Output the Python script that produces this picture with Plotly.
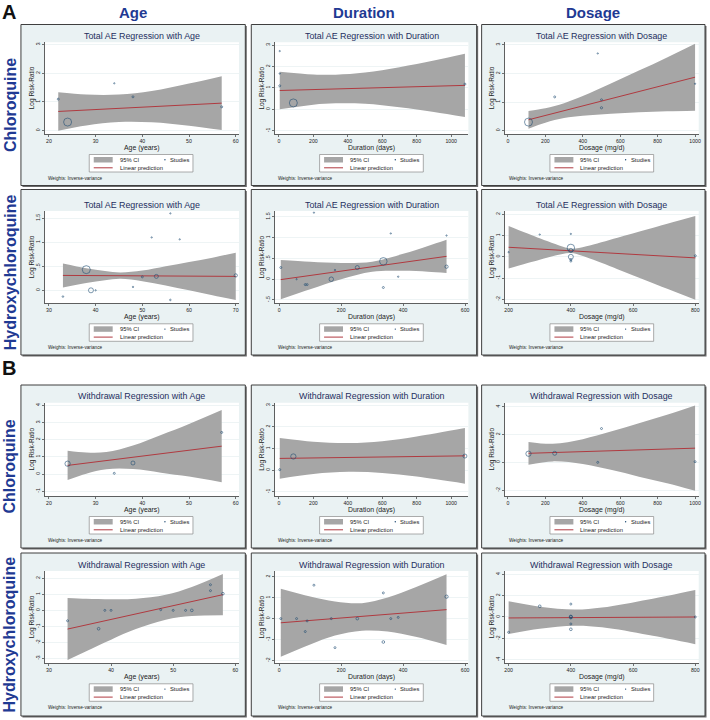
import plotly.graph_objects as go

W, H = 710, 720
FONT = "Liberation Sans, Arial, sans-serif"
NAVY = "#1a476f"
BAND = "#a6a6a6"
FIT = "#b03a40"
PANEL_BG = "#eaf2f3"
TITLE_C = "#1e2f60"
HEAD_C = "#1f3a93"

# ------------------------------------------------------------------ data
col_headers = ["Age", "Duration", "Dosage"]
row_labels = ["Chloroquine", "Hydroxychloroquine", "Chloroquine", "Hydroxychloroquine"]
x_titles = ["Age (years)", "Duration (days)", "Dosage (mg/d)"]
y_title = "Log Risk-Ratio"

# A: Total AE, Chloroquine
cq_ae_age_x = [22, 24, 34, 38, 57]
cq_ae_age_y = [1.10, 0.30, 1.65, 1.18, 0.83]
cq_ae_age_wt = [2, 8, 1.3, 2, 2]
cq_ae_age_band_x = [22, 28, 35, 42, 50, 57]
cq_ae_age_band_lo = [0.00, 0.18, 0.30, 0.29, 0.17, 0.02]
cq_ae_age_band_hi = [1.34, 1.26, 1.26, 1.38, 1.64, 1.90]
cq_ae_age_fit_x = [22, 57]
cq_ae_age_fit_y = [0.67, 0.96]

cq_ae_dur_x = [5, 5, 5, 84, 1080]
cq_ae_dur_y = [2.72, 1.67, 1.10, 0.30, 1.18]
cq_ae_dur_wt = [1.3, 1.3, 2, 8, 2]
cq_ae_dur_band_x = [5, 200, 330, 500, 700, 900, 1080]
cq_ae_dur_band_lo = [0.00, 0.22, 0.28, 0.26, 0.10, -0.12, -0.36]
cq_ae_dur_band_hi = [1.76, 1.63, 1.62, 1.72, 1.97, 2.28, 2.59]
cq_ae_dur_fit_x = [5, 1080]
cq_ae_dur_fit_y = [0.88, 1.12]

cq_ae_dos_x = [110, 250, 480, 500, 500, 1000]
cq_ae_dos_y = [0.30, 1.18, 2.70, 1.08, 0.80, 1.64]
cq_ae_dos_wt = [8, 2, 1.3, 2, 2.2, 1.3]
cq_ae_dos_band_x = [110, 200, 300, 400, 550, 700, 850, 1000]
cq_ae_dos_band_lo = [0.07, 0.28, 0.44, 0.52, 0.59, 0.64, 0.68, 0.70]
cq_ae_dos_band_hi = [0.69, 0.78, 0.96, 1.21, 1.65, 2.10, 2.56, 3.04]
cq_ae_dos_fit_x = [110, 1000]
cq_ae_dos_fit_y = [0.38, 1.87]

# A: Total AE, Hydroxychloroquine
hcq_ae_age_x = [33, 38, 39, 40, 48, 50, 52, 53, 56, 56, 58, 70]
hcq_ae_age_y = [-0.13, 0.43, 0.00, 0.00, 0.07, 0.28, 1.10, 0.29, 1.60, -0.20, 1.06, 0.31]
hcq_ae_age_wt = [1.6, 8, 5, 1.3, 1.4, 2, 1.3, 4, 1.3, 1.6, 1.3, 3.3]
hcq_ae_age_band_x = [33, 38, 42, 45.3, 50, 55, 60, 65, 70]
hcq_ae_age_band_lo = [0.06, 0.15, 0.21, 0.24, 0.19, 0.10, 0.00, -0.10, -0.20]
hcq_ae_age_band_hi = [0.56, 0.46, 0.40, 0.37, 0.41, 0.50, 0.59, 0.68, 0.78]
hcq_ae_age_fit_x = [33, 70]
hcq_ae_age_fit_y = [0.31, 0.29]

hcq_ae_dur_x = [5, 56, 84, 90, 112, 168, 180, 252, 336, 336, 360, 384, 540, 540]
hcq_ae_dur_y = [0.28, 0.00, -0.13, -0.13, 1.60, 0.00, 0.22, 0.28, 0.43, -0.20, 1.10, 0.06, 1.05, 0.30]
hcq_ae_dur_wt = [2, 1.3, 2, 2, 1.3, 4.5, 1.4, 4, 7.5, 2, 1.3, 1.4, 1.3, 3.3]
hcq_ae_dur_band_x = [5, 100, 200, 300, 400, 480, 540]
hcq_ae_dur_band_lo = [-0.48, -0.24, 0.00, 0.18, 0.20, 0.18, 0.15]
hcq_ae_dur_band_hi = [0.46, 0.42, 0.39, 0.42, 0.61, 0.80, 0.95]
hcq_ae_dur_fit_x = [5, 540]
hcq_ae_dur_fit_y = [-0.01, 0.55]

hcq_ae_dos_x = [200, 300, 400, 400, 400, 400, 400, 400, 800]
hcq_ae_dos_y = [0.22, 1.05, 1.08, 0.42, 0.30, 0.00, -0.13, -0.20, 0.05]
hcq_ae_dos_wt = [1.3, 1.3, 1.3, 7.5, 4, 5, 2, 2, 2]
hcq_ae_dos_band_x = [200, 300, 350, 400, 450, 550, 650, 800]
hcq_ae_dos_band_lo = [-0.55, -0.14, 0.06, 0.18, -0.02, -0.58, -1.16, -2.02]
hcq_ae_dos_band_hi = [1.45, 0.87, 0.60, 0.38, 0.50, 0.90, 1.31, 1.92]
hcq_ae_dos_fit_x = [200, 800]
hcq_ae_dos_fit_y = [0.45, -0.05]

# B: Withdrawal, Chloroquine
cq_wd_age_x = [24, 34, 38, 57]
cq_wd_age_y = [0.60, 0.04, 0.64, 2.42]
cq_wd_age_wt = [5.3, 2, 4, 2]
cq_wd_age_band_x = [24, 28, 32.3, 38, 44, 50, 57]
cq_wd_age_band_lo = [-0.35, 0.02, 0.28, 0.29, 0.08, -0.15, -0.48]
cq_wd_age_band_hi = [1.35, 1.25, 1.28, 1.66, 2.27, 2.91, 3.72]
cq_wd_age_fit_x = [24, 57]
cq_wd_age_fit_y = [0.50, 1.62]

cq_wd_dur_x = [5, 84, 1080]
cq_wd_dur_y = [0.02, 0.63, 0.65]
cq_wd_dur_wt = [2, 5.3, 4]
cq_wd_dur_band_x = [5, 200, 406, 600, 800, 1080]
cq_wd_dur_band_lo = [-0.40, -0.18, -0.08, -0.13, -0.30, -0.63]
cq_wd_dur_band_hi = [1.48, 1.31, 1.25, 1.34, 1.56, 1.95]
cq_wd_dur_fit_x = [5, 1080]
cq_wd_dur_fit_y = [0.54, 0.66]

cq_wd_dos_x = [110, 250, 480, 500, 1000]
cq_wd_dos_y = [0.62, 0.65, 0.00, 2.43, 0.05]
cq_wd_dos_wt = [5.3, 4, 2, 2, 2]
cq_wd_dos_band_x = [110, 240, 400, 550, 700, 850, 1000]
cq_wd_dos_band_lo = [-0.17, 0.07, -0.12, -0.54, -1.03, -1.50, -2.05]
cq_wd_dos_band_hi = [1.47, 1.34, 1.67, 2.21, 2.82, 3.42, 4.09]
cq_wd_dos_fit_x = [110, 1000]
cq_wd_dos_fit_y = [0.65, 1.02]

# B: Withdrawal, Hydroxychloroquine
hcq_wd_age_x = [33, 38, 39, 40, 48, 50, 52, 53, 56, 56, 58]
hcq_wd_age_y = [-0.65, -1.15, 0.00, 0.00, 0.04, 0.00, 0.00, 0.00, 1.60, 1.23, 1.04]
hcq_wd_age_wt = [2, 2.7, 2, 2, 2, 2, 2, 2.7, 2, 2, 2.7]
hcq_wd_age_band_x = [33, 36, 40, 44, 48.8, 53, 58]
hcq_wd_age_band_lo = [-3.10, -2.55, -1.83, -1.17, -0.59, -0.36, -0.31]
hcq_wd_age_band_hi = [0.77, 0.72, 0.69, 0.72, 0.97, 1.46, 2.27]
hcq_wd_age_fit_x = [33, 58]
hcq_wd_age_fit_y = [-1.17, 0.98]

hcq_wd_dur_x = [5, 56, 84, 90, 112, 168, 180, 252, 336, 336, 360, 384, 540]
hcq_wd_dur_y = [0.00, 0.00, -0.62, -0.11, 1.60, 0.00, -1.39, 0.00, 1.23, -1.12, 0.00, 0.06, 1.05]
hcq_wd_dur_wt = [2, 2, 2, 2, 2, 2, 2, 2.7, 2, 2.7, 2, 2, 3.3]
hcq_wd_dur_band_x = [5, 100, 180, 267, 350, 440, 540]
hcq_wd_dur_band_lo = [-1.83, -1.24, -0.81, -0.58, -0.62, -0.87, -1.26]
hcq_wd_dur_band_hi = [1.43, 1.06, 0.82, 0.74, 1.01, 1.50, 2.12]
hcq_wd_dur_fit_x = [5, 540]
hcq_wd_dur_fit_y = [-0.20, 0.43]

hcq_wd_dos_x = [200, 300, 400, 400, 400, 400, 400, 400, 800]
hcq_wd_dos_y = [-1.43, 1.00, 1.21, 0.05, 0.00, -0.10, -0.65, -1.15, 0.00]
hcq_wd_dos_wt = [2, 2.7, 2, 2.7, 3.3, 2, 2, 2.7, 2]
hcq_wd_dos_band_x = [200, 300, 413, 500, 650, 800]
hcq_wd_dos_band_lo = [-1.60, -1.11, -0.81, -0.97, -1.69, -2.54]
hcq_wd_dos_band_hi = [1.46, 0.96, 0.69, 0.88, 1.64, 2.53]
hcq_wd_dos_fit_x = [200, 800]
hcq_wd_dos_fit_y = [-0.09, 0.00]

# tick values
age_ticks_20 = [20, 30, 40, 50, 60]
age_ticks_30 = [30, 40, 50, 60, 70]
age_ticks_30b = [30, 40, 50, 60]
dur_ticks_1000 = [0, 200, 400, 600, 800, 1000]
dur_ticks_600 = [0, 200, 400, 600]
dos_ticks_1000 = [0, 200, 400, 600, 800, 1000]
dos_ticks_800 = [200, 400, 600, 800]

y_ticks_0_3 = [0, 1, 2, 3]
y_ticks_m1_3 = [-1, 0, 1, 2, 3]
y_ticks_half = [0, 0.5, 1, 1.5]
y_ticks_half_lab = ["0", ".5", "1", "1.5"]
y_ticks_mhalf = [-0.5, 0, 0.5, 1, 1.5]
y_ticks_mhalf_lab = ["-.5", "0", ".5", "1", "1.5"]
y_ticks_m2_2 = [-2, -1, 0, 1, 2]
y_ticks_m1_4 = [-1, 0, 1, 2, 3, 4]
y_ticks_m2_4 = [-2, 0, 2, 4]
y_ticks_m3_2 = [-3, -2, -1, 0, 1, 2]
y_ticks_m4_4 = [-4, -2, 0, 2, 4]

# ------------------------------------------------------------------ panels
def P(title, col, x, y, wt, bx, lo, hi, fx, fy, xt, yt, ytl, xr, yr):
    return dict(title=title, col=col, x=x, y=y, wt=wt, bx=bx, lo=lo, hi=hi,
                fx=fx, fy=fy, xt=xt, yt=yt, ytl=ytl, xr=xr, yr=yr)

def lab(v):
    return [str(t) for t in v]

panels = [
    P("Total AE Regression with Age", 0, cq_ae_age_x, cq_ae_age_y, cq_ae_age_wt,
      cq_ae_age_band_x, cq_ae_age_band_lo, cq_ae_age_band_hi, cq_ae_age_fit_x, cq_ae_age_fit_y,
      age_ticks_20, y_ticks_0_3, lab(y_ticks_0_3), [19.07, 60.71], [-0.116, 3.08]),
    P("Total AE Regression with Duration", 1, cq_ae_dur_x, cq_ae_dur_y, cq_ae_dur_wt,
      cq_ae_dur_band_x, cq_ae_dur_band_lo, cq_ae_dur_band_hi, cq_ae_dur_fit_x, cq_ae_dur_fit_y,
      dur_ticks_1000, y_ticks_m1_3, lab(y_ticks_m1_3), [-23, 1100], [-1.15, 3.13]),
    P("Total AE Regression with Dosage", 2, cq_ae_dos_x, cq_ae_dos_y, cq_ae_dos_wt,
      cq_ae_dos_band_x, cq_ae_dos_band_lo, cq_ae_dos_band_hi, cq_ae_dos_fit_x, cq_ae_dos_fit_y,
      dos_ticks_1000, y_ticks_0_3, lab(y_ticks_0_3), [-17.8, 1019.5], [-0.117, 3.09]),
    P("Total AE Regression with Age", 0, hcq_ae_age_x, hcq_ae_age_y, hcq_ae_age_wt,
      hcq_ae_age_band_x, hcq_ae_age_band_lo, hcq_ae_age_band_hi, hcq_ae_age_fit_x, hcq_ae_age_fit_y,
      age_ticks_30, y_ticks_half, y_ticks_half_lab, [29.07, 70.7], [-0.27, 1.65]),
    P("Total AE Regression with Duration", 1, hcq_ae_dur_x, hcq_ae_dur_y, hcq_ae_dur_wt,
      hcq_ae_dur_band_x, hcq_ae_dur_band_lo, hcq_ae_dur_band_hi, hcq_ae_dur_fit_x, hcq_ae_dur_fit_y,
      dur_ticks_600, y_ticks_mhalf, y_ticks_mhalf_lab, [-13.9, 610.5], [-0.58, 1.64]),
    P("Total AE Regression with Dosage", 2, hcq_ae_dos_x, hcq_ae_dos_y, hcq_ae_dos_wt,
      hcq_ae_dos_band_x, hcq_ae_dos_band_lo, hcq_ae_dos_band_hi, hcq_ae_dos_fit_x, hcq_ae_dos_fit_y,
      dos_ticks_800, y_ticks_m2_2, lab(y_ticks_m2_2), [187, 811], [-2.19, 2.16]),
    P("Withdrawal Regression with Age", 0, cq_wd_age_x, cq_wd_age_y, cq_wd_age_wt,
      cq_wd_age_band_x, cq_wd_age_band_lo, cq_wd_age_band_hi, cq_wd_age_fit_x, cq_wd_age_fit_y,
      age_ticks_20, y_ticks_m1_4, lab(y_ticks_m1_4), [19.07, 60.71], [-1.28, 4.15]),
    P("Withdrawal Regression with Duration", 1, cq_wd_dur_x, cq_wd_dur_y, cq_wd_dur_wt,
      cq_wd_dur_band_x, cq_wd_dur_band_lo, cq_wd_dur_band_hi, cq_wd_dur_fit_x, cq_wd_dur_fit_y,
      dur_ticks_1000, y_ticks_m1_3, lab(y_ticks_m1_3), [-23, 1100], [-1.2, 3.12]),
    P("Withdrawal Regression with Dosage", 2, cq_wd_dos_x, cq_wd_dos_y, cq_wd_dos_wt,
      cq_wd_dos_band_x, cq_wd_dos_band_lo, cq_wd_dos_band_hi, cq_wd_dos_fit_x, cq_wd_dos_fit_y,
      dos_ticks_1000, y_ticks_m2_4, lab(y_ticks_m2_4), [-17.8, 1019.5], [-2.42, 4.29]),
    P("Withdrawal Regression with Age", 0, hcq_wd_age_x, hcq_wd_age_y, hcq_wd_age_wt,
      hcq_wd_age_band_x, hcq_wd_age_band_lo, hcq_wd_age_band_hi, hcq_wd_age_fit_x, hcq_wd_age_fit_y,
      age_ticks_30b, y_ticks_m3_2, lab(y_ticks_m3_2), [29.3, 60.6], [-3.31, 2.46]),
    P("Withdrawal Regression with Duration", 1, hcq_wd_dur_x, hcq_wd_dur_y, hcq_wd_dur_wt,
      hcq_wd_dur_band_x, hcq_wd_dur_band_lo, hcq_wd_dur_band_hi, hcq_wd_dur_fit_x, hcq_wd_dur_fit_y,
      dur_ticks_600, y_ticks_m2_2, lab(y_ticks_m2_2), [-13.9, 610.5], [-2.14, 2.28]),
    P("Withdrawal Regression with Dosage", 2, hcq_wd_dos_x, hcq_wd_dos_y, hcq_wd_dos_wt,
      hcq_wd_dos_band_x, hcq_wd_dos_band_lo, hcq_wd_dos_band_hi, hcq_wd_dos_fit_x, hcq_wd_dos_fit_y,
      dos_ticks_800, y_ticks_m4_4, lab(y_ticks_m4_4), [187, 811], [-4.33, 4.3]),
]

# ------------------------------------------------------------------ geometry (pixels)
COL_L = [21, 252, 483]
COL_R = [246, 478, 707]
PLOT_X0 = [44.7, 275.7, 506]
PLOT_X1 = [239.7, 469.7, 700.7]
ROW_T = [24.5, 189.5, 385, 553]
ROW_B = [185.5, 355, 548, 716]
PLOT_Y0 = [42.3, 211, 402.7, 571]
PLOT_Y1 = [134, 303.3, 496, 663.3]


def fxp(px):
    return px / W


def fyp(py):
    return 1 - py / H


fig = go.Figure()
shapes = []
annos = []
layout_axes = {}


def rect(x0, y0, x1, y1, fill, lc="rgba(0,0,0,0)", lw=0):
    shapes.append(dict(type="rect", xref="paper", yref="paper", layer="below",
                       x0=fxp(x0), x1=fxp(x1), y0=fyp(y1), y1=fyp(y0),
                       fillcolor=fill, line=dict(color=lc, width=lw)))


def text(x, y, s, size, color="#222", xanchor="center", angle=0, bold=False):
    annos.append(dict(xref="paper", yref="paper", x=fxp(x), y=fyp(y),
                      text=(f"<b>{s}</b>" if bold else s), showarrow=False,
                      xanchor=xanchor, yanchor="middle", textangle=angle,
                      font=dict(family=FONT, size=size, color=color)))


# panel backgrounds first (with a slight drop shadow)
for k, p in enumerate(panels):
    r, c = k // 3, k % 3
    rect(COL_L[c] + 1.5, ROW_T[r] + 1.5, COL_R[c] + 1.5, ROW_B[r] + 1.5, "#6a6a6a")
    rect(COL_L[c], ROW_T[r], COL_R[c], ROW_B[r], PANEL_BG, "#3f3f3f", 1.0)
    rect(PLOT_X0[c], PLOT_Y0[r], PLOT_X1[c], PLOT_Y1[r], "white")

for k, p in enumerate(panels):
    r, c = k // 3, k % 3
    i = k + 1
    xa, ya = f"x{i}", f"y{i}"
    # CI band
    fig.add_trace(go.Scatter(x=p["bx"], y=p["lo"], mode="lines", line=dict(width=0, shape="spline", color=BAND),
                             xaxis=xa, yaxis=ya, showlegend=False, hoverinfo="skip"))
    fig.add_trace(go.Scatter(x=p["bx"], y=p["hi"], mode="lines", line=dict(width=0, shape="spline", color=BAND),
                             fill="tonexty", fillcolor=BAND, xaxis=xa, yaxis=ya, showlegend=False,
                             hoverinfo="skip"))
    # fitted line
    fig.add_trace(go.Scatter(x=p["fx"], y=p["fy"], mode="lines", line=dict(width=1, color=FIT),
                             xaxis=xa, yaxis=ya, showlegend=False))
    # studies
    fig.add_trace(go.Scatter(x=p["x"], y=p["y"], mode="markers",
                             marker=dict(symbol="circle-open", size=p["wt"], color=NAVY,
                                         line=dict(width=0.8, color=NAVY)),
                             xaxis=xa, yaxis=ya, showlegend=False, cliponaxis=False))

    axcommon = dict(showline=True, linecolor="#3a3a3a", linewidth=0.8, ticks="outside", ticklen=2,
                    tickwidth=0.7, tickcolor="#3a3a3a", zeroline=False, fixedrange=True,
                    tickfont=dict(family=FONT, size=5.2, color="#222"))
    layout_axes[f"xaxis{i}"] = dict(domain=[fxp(PLOT_X0[c]), fxp(PLOT_X1[c])], anchor=ya,
                                    range=p["xr"], tickvals=p["xt"], ticktext=lab(p["xt"]),
                                    showgrid=False, **axcommon)
    layout_axes[f"yaxis{i}"] = dict(domain=[fyp(PLOT_Y1[r]), fyp(PLOT_Y0[r])], anchor=xa,
                                    range=p["yr"], tickvals=p["yt"], ticktext=p["ytl"], tickangle=-90,
                                    showgrid=True, gridcolor="#e3ecee", gridwidth=0.6, **axcommon)

    cx = (PLOT_X0[c] + PLOT_X1[c]) / 2
    cy = (PLOT_Y0[r] + PLOT_Y1[r]) / 2
    text(cx, PLOT_Y0[r] - 6.5, p["title"], 8.9, TITLE_C)
    text(cx, PLOT_Y1[r] + 13.5, x_titles[c], 6.9, "#222")
    text(PLOT_X0[c] - 12.5, cy, y_title, 6.5, "#222", angle=-90)

    # legend
    L = COL_L[c]
    T = PLOT_Y1[r] + 20.5
    rect(L + 68.5, T, L + 172.5, T + 17.5, "white", "#8a8a8a", 0.7)
    rect(L + 73, T + 2.5, L + 92, T + 8, BAND)
    shapes.append(dict(type="line", xref="paper", yref="paper", layer="below",
                       x0=fxp(L + 73), x1=fxp(L + 92), y0=fyp(T + 13.3), y1=fyp(T + 13.3),
                       line=dict(color=FIT, width=1)))
    shapes.append(dict(type="circle", xref="paper", yref="paper", layer="below",
                       x0=fxp(L + 143.7), x1=fxp(L + 145.1), y0=fyp(T + 6.0), y1=fyp(T + 4.6),
                       fillcolor=NAVY, line=dict(width=0)))
    text(L + 97, T + 5.3, "95% CI", 5.8, "#222", xanchor="left")
    text(L + 147.5, T + 5.3, "Studies", 5.8, "#222", xanchor="left")
    text(L + 97, T + 13.3, "Linear prediction", 5.8, "#222", xanchor="left")
    text(L + 25, PLOT_Y1[r] + 44, "Weights: Inverse-variance", 4.7, "#222", xanchor="left")

# headers / labels
for c, h in enumerate(col_headers):
    text((COL_L[c] + COL_R[c]) / 2, 12, h, 15, HEAD_C, bold=True)
for r, lbl in enumerate(row_labels):
    text(10, (ROW_T[r] + ROW_B[r]) / 2, lbl, 16, HEAD_C, angle=-90, bold=True)
text(9, 12, "A", 20, "#111", bold=True)
text(9, 368, "B", 20, "#111", bold=True)

fig.update_layout(width=W, height=H, margin=dict(l=0, r=0, t=0, b=0),
                  paper_bgcolor="white", plot_bgcolor="rgba(0,0,0,0)",
                  shapes=shapes, annotations=annos, showlegend=False,
                  font=dict(family=FONT), **layout_axes)

fig.write_html("out.html", config={"displayModeBar": False, "staticPlot": True},
               post_script="document.body.style.margin='0';document.body.style.padding='0';")
